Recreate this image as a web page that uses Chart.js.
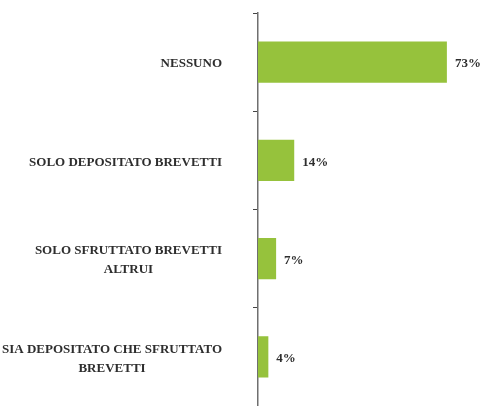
<!DOCTYPE html>
<html>
<head>
<meta charset="utf-8">
<script src="https://cdn.jsdelivr.net/npm/chart.js@4/dist/chart.umd.min.js"></script>
<style>
  html, body { margin: 0; padding: 0; background: #fff; }
  #wrap { width: 481px; height: 406px; }
</style>
</head>
<body>
<div id="wrap"><canvas id="brevettiChart"></canvas></div>
<script>
const categories = [
  ["NESSUNO"],
  ["SOLO DEPOSITATO BREVETTI"],
  ["SOLO SFRUTTATO BREVETTI", "ALTRUI"],
  ["SIA DEPOSITATO CHE SFRUTTATO", "BREVETTI"]
];
const shares = [73, 14, 7, 4];

const textFont = "bold 13px 'Liberation Serif', 'DejaVu Serif', serif";
const textColor = "#2e2e2e";

// category names, drawn left of the axis; lines of one name centred on each other
const categoryLabels = {
  id: "categoryLabels",
  afterDraw(chart) {
    const ctx = chart.ctx;
    const y = chart.scales.y;
    const rightEdge = 222;
    const lineH = 19;
    ctx.save();
    ctx.font = textFont;
    ctx.fillStyle = textColor;
    ctx.textAlign = "center";
    ctx.textBaseline = "middle";
    categories.forEach((lines, i) => {
      const cy = y.getPixelForTick(i) + 2;
      const w = Math.max(...lines.map(l => ctx.measureText(l).width));
      const cx = rightEdge - w / 2;
      const top = cy - (lines.length - 1) * lineH / 2;
      lines.forEach((l, k) => ctx.fillText(l, cx, top + k * lineH));
    });
    ctx.restore();
  }
};

// percentage next to the end of each bar
const valueLabels = {
  id: "valueLabels",
  afterDatasetsDraw(chart) {
    const ctx = chart.ctx;
    const meta = chart.getDatasetMeta(0);
    ctx.save();
    ctx.font = textFont;
    ctx.fillStyle = textColor;
    ctx.textAlign = "left";
    ctx.textBaseline = "middle";
    meta.data.forEach((bar, i) => {
      ctx.fillText(shares[i] + "%", bar.x + 8, bar.y + 2);
    });
    ctx.restore();
  }
};

new Chart(document.getElementById("brevettiChart"), {
  type: "bar",
  data: {
    labels: categories.map(c => c.join(" ")),
    datasets: [{
      data: shares,
      backgroundColor: "#96c23c",
      borderWidth: 0,
      categoryPercentage: 1,
      barPercentage: 0.42
    }]
  },
  options: {
    indexAxis: "y",
    responsive: true,
    maintainAspectRatio: false,
    animation: false,
    layout: { padding: { left: 253, right: 16, top: 13, bottom: 0 } },
    plugins: {
      legend: { display: false },
      tooltip: { enabled: false }
    },
    scales: {
      x: {
        display: false,
        min: 0,
        max: 80
      },
      y: {
        ticks: { display: false },
        grid: {
          drawOnChartArea: false,
          drawTicks: true,
          tickLength: 5,
          color: "#444444",
          lineWidth: 1
        },
        border: { display: true, color: "#6f6f6f", width: 1.5 }
      }
    }
  },
  plugins: [categoryLabels, valueLabels]
});
</script>
</body>
</html>
